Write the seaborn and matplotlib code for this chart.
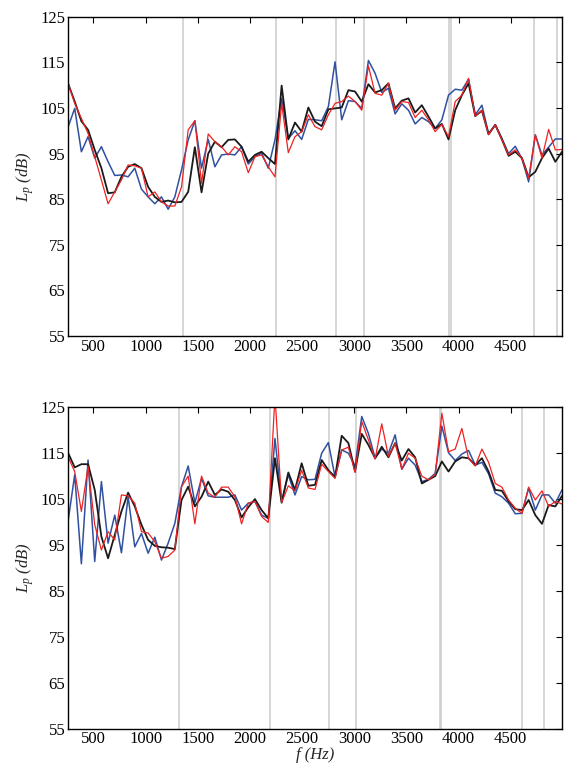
import numpy as np
import pandas as pd
import seaborn as sns
import matplotlib
matplotlib.use('Agg')
import matplotlib.pyplot as plt

# frequency grid (Hz), 64 Hz spacing
freq = np.arange(256, 5000, 64)

# top panel, sound pressure level (dB)
top_blue = [100.8, 104.9, 95.4, 98.7, 94.0, 96.5, 93.2, 90.2, 90.3, 89.9, 91.8, 87.2, 85.5, 84.0, 85.5,
            82.8, 85.5, 91.4, 98.0, 102.2, 91.8, 98.1, 92.1, 94.7, 94.9, 94.7, 96.5, 92.7, 94.3, 95.1,
            91.8, 98.0, 107.1, 98.3, 100.0, 98.1, 102.5, 102.4, 102.2, 105.3, 115.1, 102.4, 106.6, 106.4, 104.9,
            115.4, 112.6, 108.4, 109.3, 103.7, 105.9, 104.5, 101.5, 102.9, 102.0, 100.5, 102.4, 107.8, 109.1, 108.9,
            111.3, 103.5, 105.6, 99.4, 101.3, 98.3, 95.0, 96.6, 93.9, 88.8, 99.1, 94.7, 96.4, 98.2, 98.2]
top_red = [110.4, 106.0, 102.7, 99.4, 94.3, 89.2, 84.0, 86.6, 89.2, 92.5, 92.3, 91.8, 85.5, 86.6, 84.4,
           83.5, 83.5, 87.7, 100.2, 102.2, 88.5, 99.3, 97.6, 96.5, 94.7, 96.5, 95.4, 90.8, 94.3, 94.7,
           92.1, 89.9, 106.0, 95.2, 98.7, 99.8, 103.5, 100.9, 100.2, 103.5, 106.0, 106.4, 107.6, 106.4, 104.5,
           114.2, 108.2, 107.8, 110.4, 104.5, 106.4, 106.2, 102.9, 104.5, 102.4, 99.8, 101.4, 98.7, 106.4, 107.8,
           111.5, 103.2, 104.5, 99.2, 101.3, 98.0, 94.7, 95.8, 94.0, 89.6, 99.1, 94.0, 100.3, 95.8, 95.9]
top_black = [110.4, 106.4, 102.1, 100.2, 95.8, 91.8, 86.3, 86.5, 89.9, 92.1, 92.7, 91.8, 87.7, 85.5, 84.4,
             84.7, 84.3, 84.4, 86.6, 96.4, 86.5, 95.0, 97.6, 96.4, 98.0, 98.1, 96.5, 93.2, 94.7, 95.4,
             94.0, 92.7, 109.9, 98.1, 101.8, 99.8, 105.1, 102.0, 101.0, 104.7, 104.9, 105.1, 108.9, 108.6, 106.4,
             110.2, 108.4, 108.9, 110.4, 104.9, 106.6, 107.1, 104.0, 105.6, 103.1, 100.5, 101.5, 98.1, 104.5, 107.8,
             110.4, 103.2, 104.4, 99.2, 101.3, 98.1, 94.5, 95.4, 94.0, 89.8, 91.0, 94.0, 96.1, 93.2, 95.4]

# bottom panel
bot_blue = [100.1, 110.3, 90.9, 113.5, 91.4, 108.8, 95.4, 101.5, 93.3, 105.5, 94.6, 97.5, 93.2, 96.7, 91.7,
            95.4, 99.7, 107.7, 112.2, 104.2, 109.5, 105.7, 105.4, 105.4, 105.4, 105.9, 102.6, 104.1, 104.5, 101.5,
            100.8, 118.2, 104.5, 110.3, 105.9, 109.9, 109.2, 109.3, 115.0, 117.3, 109.8, 115.7, 115.0, 112.1, 123.0,
            119.3, 113.9, 115.9, 115.0, 119.0, 111.5, 113.9, 112.4, 108.8, 109.3, 110.6, 120.9, 115.1, 113.4, 114.8,
            115.6, 112.4, 113.0, 110.5, 106.3, 105.5, 104.1, 101.8, 101.9, 107.4, 102.6, 105.9, 105.9, 104.1, 107.0]
bot_red = [114.2, 111.0, 102.3, 112.1, 99.4, 93.9, 97.9, 96.1, 105.9, 105.7, 104.1, 97.9, 97.6, 95.7, 92.1,
           92.5, 93.9, 107.7, 110.0, 99.6, 110.0, 106.3, 105.4, 107.6, 107.6, 105.5, 99.6, 104.1, 104.5, 101.2,
           99.9, 127.5, 104.2, 107.9, 106.8, 111.3, 107.4, 107.1, 112.6, 111.0, 109.5, 115.7, 116.3, 110.8, 121.9,
           117.9, 113.7, 121.4, 114.3, 117.2, 111.5, 115.0, 113.9, 110.0, 109.2, 110.3, 123.7, 115.3, 115.9, 120.4,
           113.9, 112.2, 115.9, 113.0, 108.4, 107.6, 104.8, 103.0, 101.9, 107.6, 104.8, 106.8, 103.4, 104.5, 103.9]
bot_black = [115.1, 111.9, 112.6, 112.6, 107.0, 96.8, 92.1, 97.2, 102.3, 106.4, 103.4, 99.4, 96.1, 94.8, 94.5,
             94.4, 94.1, 104.8, 107.7, 103.4, 105.5, 108.8, 105.9, 107.1, 106.6, 104.8, 101.0, 103.2, 105.0, 102.6,
             100.8, 113.9, 104.2, 110.8, 107.0, 112.8, 107.9, 108.1, 113.5, 111.3, 109.8, 118.8, 117.2, 111.0, 119.2,
             116.8, 113.9, 116.4, 114.1, 117.2, 113.4, 115.9, 114.1, 108.4, 109.2, 110.0, 113.2, 111.0, 113.2, 114.1,
             113.9, 112.4, 113.9, 111.0, 107.0, 106.8, 104.5, 102.8, 102.6, 104.8, 101.5, 99.6, 103.7, 103.4, 105.7]

# grey marker lines (Hz)
top_marks = [1360, 2253, 2827, 3097, 3913, 3925, 4723, 4946]
bot_marks = [1322, 2196, 2756, 3017, 3820, 3828, 4611, 4818]

sns.set_style('white')
plt.rcParams['font.family'] = ['Liberation Serif', 'DejaVu Serif']
plt.rcParams['mathtext.fontset'] = 'custom'
plt.rcParams['mathtext.it'] = 'Liberation Serif:italic'
plt.rcParams['mathtext.rm'] = 'Liberation Serif'

fig = plt.figure(figsize=(5.65, 7.63), dpi=100)
ax_top = fig.add_axes([0.1204, 0.5596, 0.8743, 0.4185])
ax_bot = fig.add_axes([0.1204, 0.0452, 0.8743, 0.4210])

colors = {'blue': '#3050a0', 'black': '#1a1a1a', 'red': '#ee2222'}

def draw(ax, blue, red, black, marks):
    for m in marks:
        ax.axvline(m, color='#cfcfcf', lw=1.2, zorder=0)
    df = pd.DataFrame({'f': freq, 'blue': blue, 'black': black, 'red': red})
    sns.lineplot(data=df, x='f', y='blue', ax=ax, color=colors['blue'], lw=1.1)
    sns.lineplot(data=df, x='f', y='black', ax=ax, color=colors['black'], lw=1.3)
    sns.lineplot(data=df, x='f', y='red', ax=ax, color=colors['red'], lw=0.9)
    ax.set_xlim(256, 4992)
    ax.set_ylim(55, 125)
    ax.set_xticks(np.arange(500, 5000, 500))
    ax.set_yticks(np.arange(55, 126, 10))
    ax.tick_params(direction='in', length=4, width=0.8, top=True, right=True,
                   labelsize=12, colors='black', pad=2)
    for s in ax.spines.values():
        s.set_linewidth(1.0)
        s.set_color('black')
    ax.set_ylabel('$L_p$ (dB)', fontsize=12, style='italic', labelpad=3)
    ax.set_xlabel('')

draw(ax_top, top_blue, top_red, top_black, top_marks)
draw(ax_bot, bot_blue, bot_red, bot_black, bot_marks)
ax_bot.set_xlabel('f (Hz)', fontsize=12, style='italic', labelpad=0)

fig.savefig('out.png', dpi=100)
